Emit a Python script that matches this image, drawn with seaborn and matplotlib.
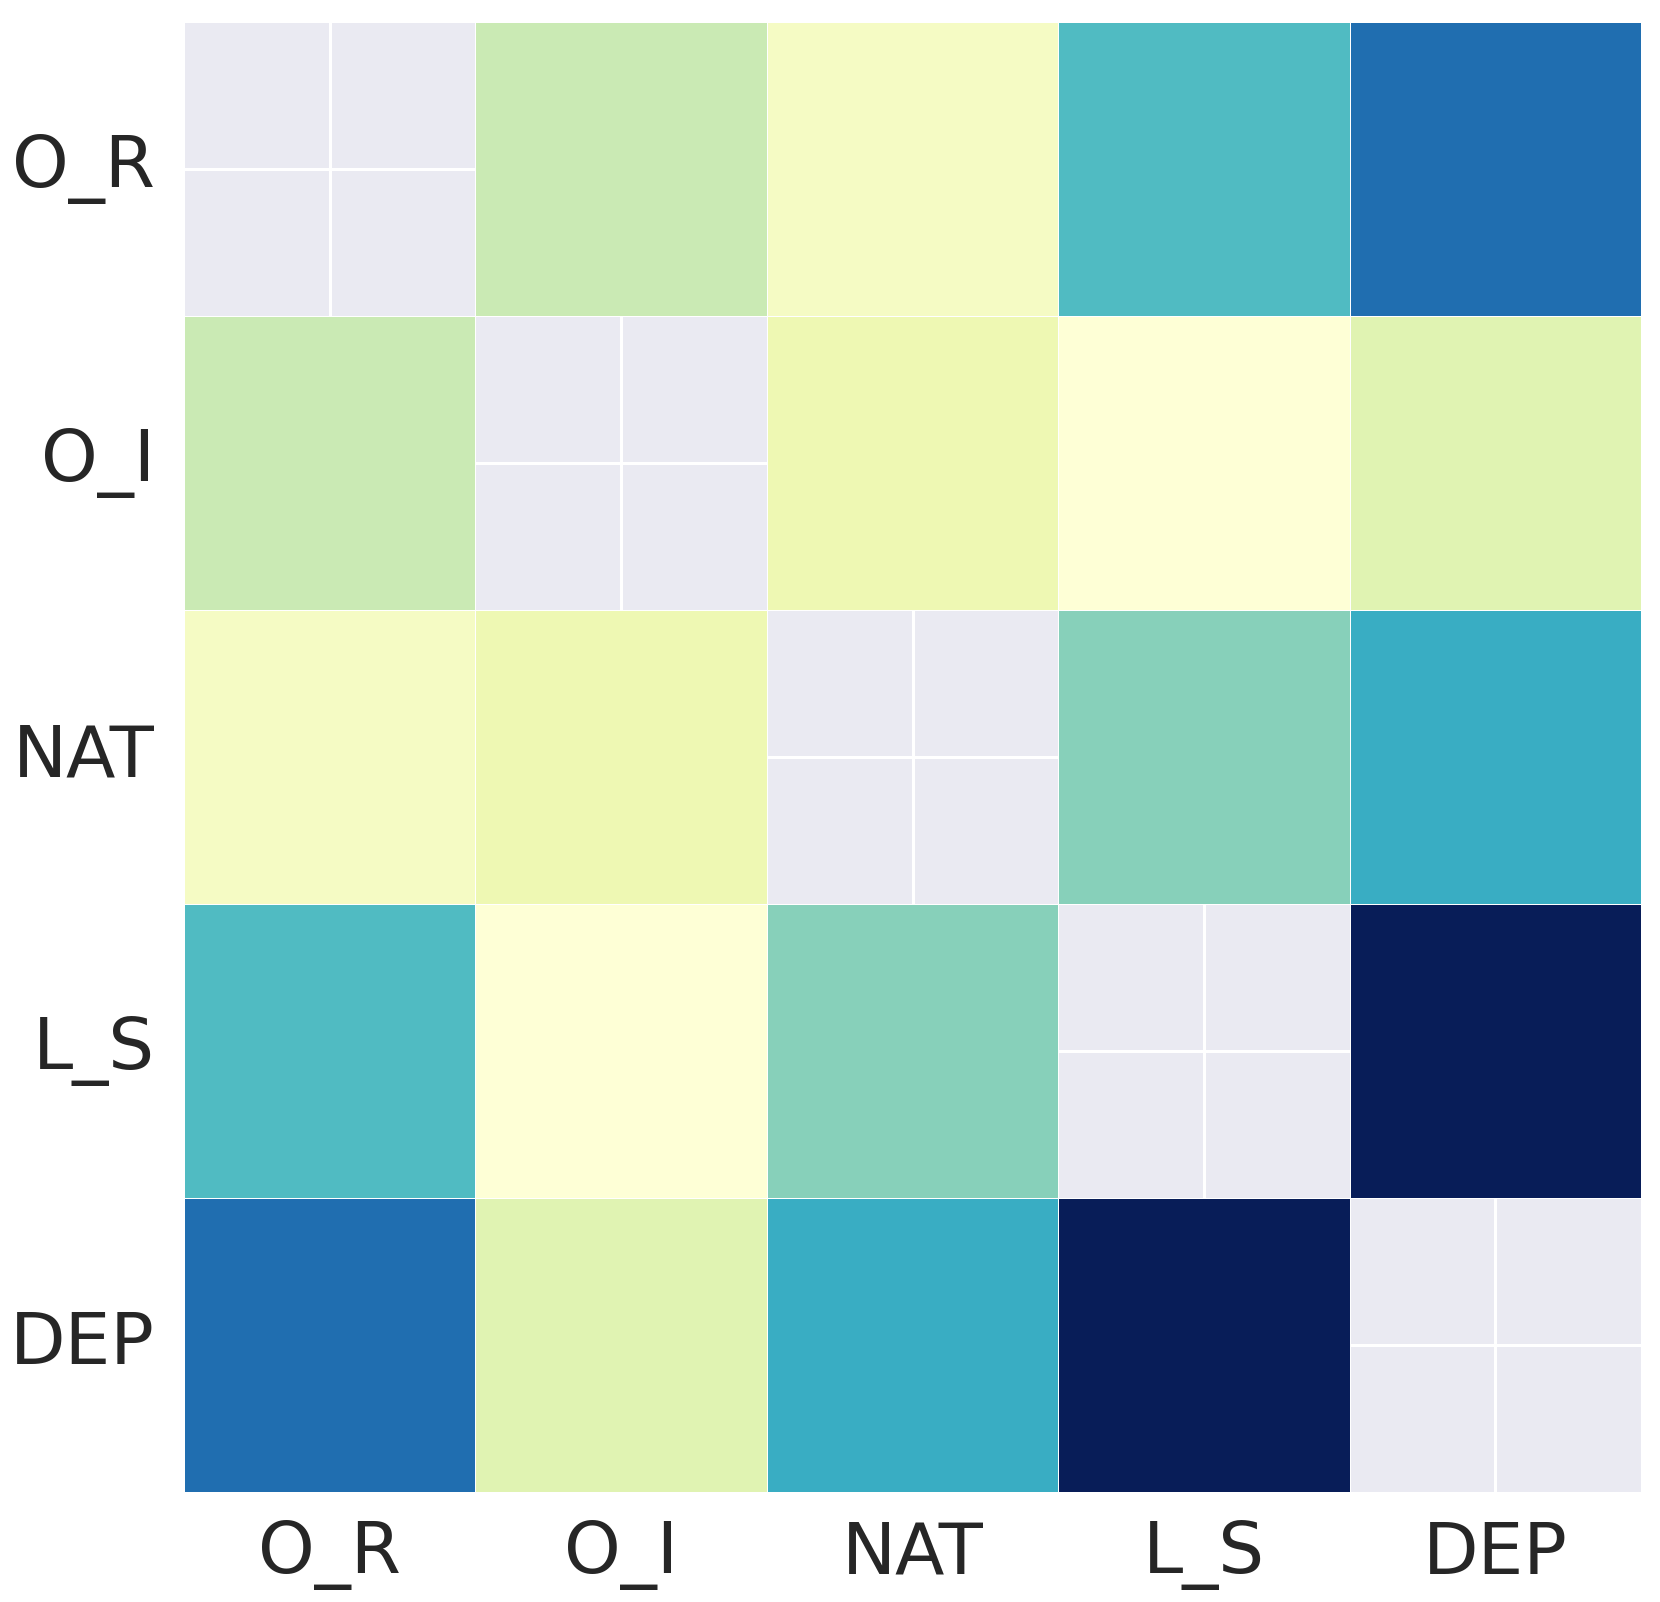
import numpy as np
import pandas as pd
import matplotlib
matplotlib.use('Agg')
import matplotlib.pyplot as plt
import seaborn as sns

labels = ['O_R', 'O_I', 'NAT', 'L_S', 'DEP']

# pairwise values (on a 0..1 scale), diagonal masked
o_r = [1.00, 0.24, 0.07, 0.47, 0.71]
o_i = [0.24, 1.00, 0.12, 0.01, 0.17]
nat = [0.07, 0.12, 1.00, 0.36, 0.53]
l_s = [0.47, 0.01, 0.36, 1.00, 1.00]
dep = [0.71, 0.17, 0.53, 1.00, 1.00]

corr = pd.DataFrame([o_r, o_i, nat, l_s, dep], index=labels, columns=labels)
mask = np.eye(len(labels), dtype=bool)

sns.set_style("darkgrid")
plt.rcParams['grid.linewidth'] = 2.2

fig = plt.figure(figsize=(16.6, 16.02), dpi=100)
ax = fig.add_axes([184/1660, 1 - 1492/1602, (1641 - 184)/1660, (1492 - 22)/1602])
sns.heatmap(corr, mask=mask, cmap='YlGnBu', vmin=0, vmax=1, cbar=False,
            linewidths=0.7, linecolor='white', square=False, ax=ax)
ax.tick_params(axis='x', labelsize=52, pad=20, length=0, colors='#262626')
ax.tick_params(axis='y', labelsize=52, pad=21, length=0, colors='#262626')
plt.setp(ax.get_yticklabels(), rotation=0)
plt.setp(ax.get_xticklabels(), rotation=0)

fig.savefig('out.png', dpi=100)
